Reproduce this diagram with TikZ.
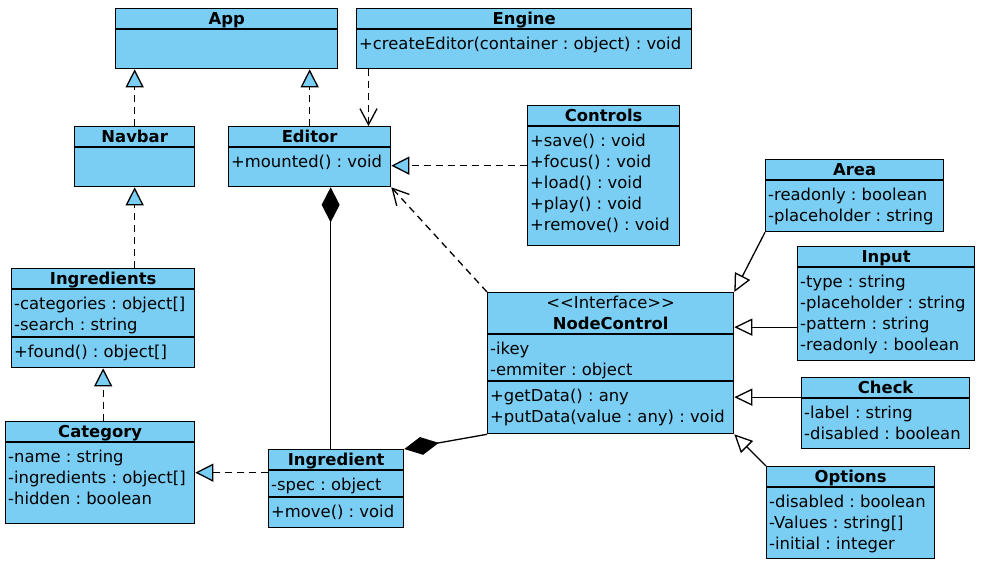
\documentclass[tikz,border=0pt]{standalone}
\usepackage{fontspec}
\setmainfont{DejaVu Sans}
\usetikzlibrary{arrows.meta}
\definecolor{cBox}{HTML}{7ACEF4}

\begin{document}
\fontsize{16.4}{21}\selectfont\frenchspacing
\begin{tikzpicture}[x=1pt, y=-1pt,
  cls/.style={draw, line width=1.3pt, fill=cBox, anchor=north west, inner sep=0pt},
  ttl/.style={font=\bfseries, anchor=base, inner sep=0pt},
  mbr/.style={anchor=base west, inner sep=0pt},
  sep/.style={line width=1.3pt},
  real/.style={line width=1.3pt, dash pattern=on 7pt off 5pt, -{Triangle[fill=cBox, length=18pt, width=18pt]}},
  gen/.style={line width=1.3pt, -{Triangle[fill=white, length=18pt, width=17pt]}},
  dep/.style={line width=1.3pt, dash pattern=on 7pt off 5pt, -{Straight Barb[length=16pt, width=17pt]}},
  comp/.style={line width=1.3pt, {Diamond[length=35pt, width=18pt]}-},
]
\useasboundingbox (0,0) rectangle (982,562);

% classes
\node[cls, minimum width=222pt, minimum height=60pt] (app) at (115,8) {};
\draw[sep] ([yshift=-21pt]app.north west) -- ([yshift=-21pt]app.north east);
\node[ttl] (appT) at ([yshift=-16.7pt]app.north) {App};

\node[cls, minimum width=335pt, minimum height=60pt] (engine) at (356,8) {};
\draw[sep] ([yshift=-21pt]engine.north west) -- ([yshift=-21pt]engine.north east);
\node[ttl] (engineT) at ([yshift=-16.7pt]engine.north) {Engine};
\node[mbr] (engine1) at ([xshift=3pt, yshift=-41pt]engine.north west) {+createEditor(container : object) : void};

\node[cls, minimum width=120pt, minimum height=60pt] (navbar) at (74,126) {};
\draw[sep] ([yshift=-21pt]navbar.north west) -- ([yshift=-21pt]navbar.north east);
\node[ttl] (navbarT) at ([yshift=-16.7pt]navbar.north) {Navbar};

\node[cls, minimum width=162pt, minimum height=60pt] (editor) at (228,126) {};
\draw[sep] ([yshift=-21pt]editor.north west) -- ([yshift=-21pt]editor.north east);
\node[ttl] (editorT) at ([yshift=-16.7pt]editor.north) {Editor};
\node[mbr] (editor1) at ([xshift=3pt, yshift=-41pt]editor.north west) {+mounted() : void};

\node[cls, minimum width=152pt, minimum height=140pt] (controls) at (527,105) {};
\draw[sep] ([yshift=-21pt]controls.north west) -- ([yshift=-21pt]controls.north east);
\node[ttl] (controlsT) at ([yshift=-16.7pt]controls.north) {Controls};
\foreach \m [count=\i] in {+save() : void, +focus() : void, +load() : void, +play() : void, +remove() : void}
  \node[mbr] (controls\i) at ([xshift=3pt, yshift=-20pt-21pt*\i]controls.north west) {\m};

\node[cls, minimum width=178pt, minimum height=72pt] (area) at (765,159) {};
\draw[sep] ([yshift=-21pt]area.north west) -- ([yshift=-21pt]area.north east);
\node[ttl] (areaT) at ([yshift=-16.7pt]area.north) {Area};
\foreach \m [count=\i] in {-readonly : boolean, -placeholder : string}
  \node[mbr] (area\i) at ([xshift=3pt, yshift=-20pt-21pt*\i]area.north west) {\m};

\node[cls, minimum width=177pt, minimum height=114pt] (input) at (797,246) {};
\draw[sep] ([yshift=-21pt]input.north west) -- ([yshift=-21pt]input.north east);
\node[ttl] (inputT) at ([yshift=-16.7pt]input.north) {Input};
\foreach \m [count=\i] in {-type : string, -placeholder : string, -pattern : string, -readonly : boolean}
  \node[mbr] (input\i) at ([xshift=3pt, yshift=-20pt-21pt*\i]input.north west) {\m};

\node[cls, minimum width=246pt, minimum height=141pt] (nodectrl) at (487,292) {};
\draw[sep] ([yshift=-42pt]nodectrl.north west) -- ([yshift=-42pt]nodectrl.north east);
\draw[sep] ([yshift=-89pt]nodectrl.north west) -- ([yshift=-89pt]nodectrl.north east);
\node[anchor=base, inner sep=0pt] (nodectrlS) at ([yshift=-16.7pt]nodectrl.north) {\textless\kern0pt\textless Interface\textgreater\kern0pt\textgreater};
\node[ttl] (nodectrlT) at ([yshift=-37.7pt]nodectrl.north) {NodeControl};
\foreach \m [count=\i] in {-ikey, -emmiter : object}
  \node[mbr] (nodectrlA\i) at ([xshift=3pt, yshift=-41pt-21pt*\i]nodectrl.north west) {\m};
\foreach \m [count=\i] in {+getData() : any, +putData(value : any) : void}
  \node[mbr] (nodectrlM\i) at ([xshift=3pt, yshift=-88pt-21pt*\i]nodectrl.north west) {\m};

\node[cls, minimum width=168pt, minimum height=71pt] (check) at (801,377) {};
\draw[sep] ([yshift=-21pt]check.north west) -- ([yshift=-21pt]check.north east);
\node[ttl] (checkT) at ([yshift=-16.7pt]check.north) {Check};
\foreach \m [count=\i] in {-label : string, -disabled : boolean}
  \node[mbr] (check\i) at ([xshift=3pt, yshift=-20pt-21pt*\i]check.north west) {\m};

\node[cls, minimum width=168pt, minimum height=92pt] (options) at (766,466) {};
\draw[sep] ([yshift=-21pt]options.north west) -- ([yshift=-21pt]options.north east);
\node[ttl] (optionsT) at ([yshift=-16.7pt]options.north) {Options};
\foreach \m [count=\i] in {-disabled : boolean, -Values : string[], -initial : integer}
  \node[mbr] (options\i) at ([xshift=3pt, yshift=-20pt-21pt*\i]options.north west) {\m};

\node[cls, minimum width=183pt, minimum height=99pt] (ingredients) at (11,268) {};
\draw[sep] ([yshift=-21pt]ingredients.north west) -- ([yshift=-21pt]ingredients.north east);
\draw[sep] ([yshift=-69pt]ingredients.north west) -- ([yshift=-69pt]ingredients.north east);
\node[ttl] (ingredientsT) at ([yshift=-16.7pt]ingredients.north) {Ingredients};
\foreach \m [count=\i] in {-categories : object[], -search : string}
  \node[mbr] (ingredientsA\i) at ([xshift=3pt, yshift=-20pt-21pt*\i]ingredients.north west) {\m};
\node[mbr] (ingredientsM1) at ([xshift=3pt, yshift=-89pt]ingredients.north west) {+found() : object[]};

\node[cls, minimum width=189pt, minimum height=102pt] (category) at (5,421) {};
\draw[sep] ([yshift=-21pt]category.north west) -- ([yshift=-21pt]category.north east);
\node[ttl] (categoryT) at ([yshift=-16.7pt]category.north) {Category};
\foreach \m [count=\i] in {-name : string, -ingredients : object[], -hidden : boolean}
  \node[mbr] (category\i) at ([xshift=3pt, yshift=-20pt-21pt*\i]category.north west) {\m};

\node[cls, minimum width=135pt, minimum height=78pt] (ingredient) at (268,449) {};
\draw[sep] ([yshift=-21pt]ingredient.north west) -- ([yshift=-21pt]ingredient.north east);
\draw[sep] ([yshift=-48pt]ingredient.north west) -- ([yshift=-48pt]ingredient.north east);
\node[ttl] (ingredientT) at ([yshift=-16.7pt]ingredient.north) {Ingredient};
\node[mbr] (ingredientA1) at ([xshift=3pt, yshift=-41pt]ingredient.north west) {-spec : object};
\node[mbr] (ingredientM1) at ([xshift=3pt, yshift=-68pt]ingredient.north west) {+move() : void};

% relations
\draw[real] (navbar.north) -- (navbar.north |- app.south);
\draw[real] (editor.north) -- (editor.north |- app.south);
\coordinate (engdep) at ([xshift=12.5pt]engine.south west);
\draw[dep] (engdep) -- (engdep |- editor.north);
\coordinate (edr) at ([yshift=-9pt]editor.east);
\draw[real] (edr -| controls.west) -- (edr);
\draw[dep] (nodectrl.north west) -- (editor.south east);
\coordinate (edc) at ([xshift=21pt]editor.south);
\draw[comp] (edc) -- (edc |- ingredient.north);
\draw[comp] (ingredient.north east) -- (nodectrl.south west);
\draw[real] (ingredient.west |- category.east) -- (category.east);
\draw[real] (ingredients.south |- category.north) -- (ingredients.south);
\draw[real] (navbar.south |- ingredients.north) -- (navbar.south);
\draw[gen] (area.south west) -- (nodectrl.north east);
\coordinate (ncin) at ([yshift=36pt]nodectrl.east);
\draw[gen] (ncin -| input.west) -- (ncin);
\coordinate (ncck) at ([yshift=-34pt]nodectrl.east);
\draw[gen] (ncck -| check.west) -- (ncck);
\draw[gen] (options.north west) -- (nodectrl.south east);
\end{tikzpicture}
\end{document}
